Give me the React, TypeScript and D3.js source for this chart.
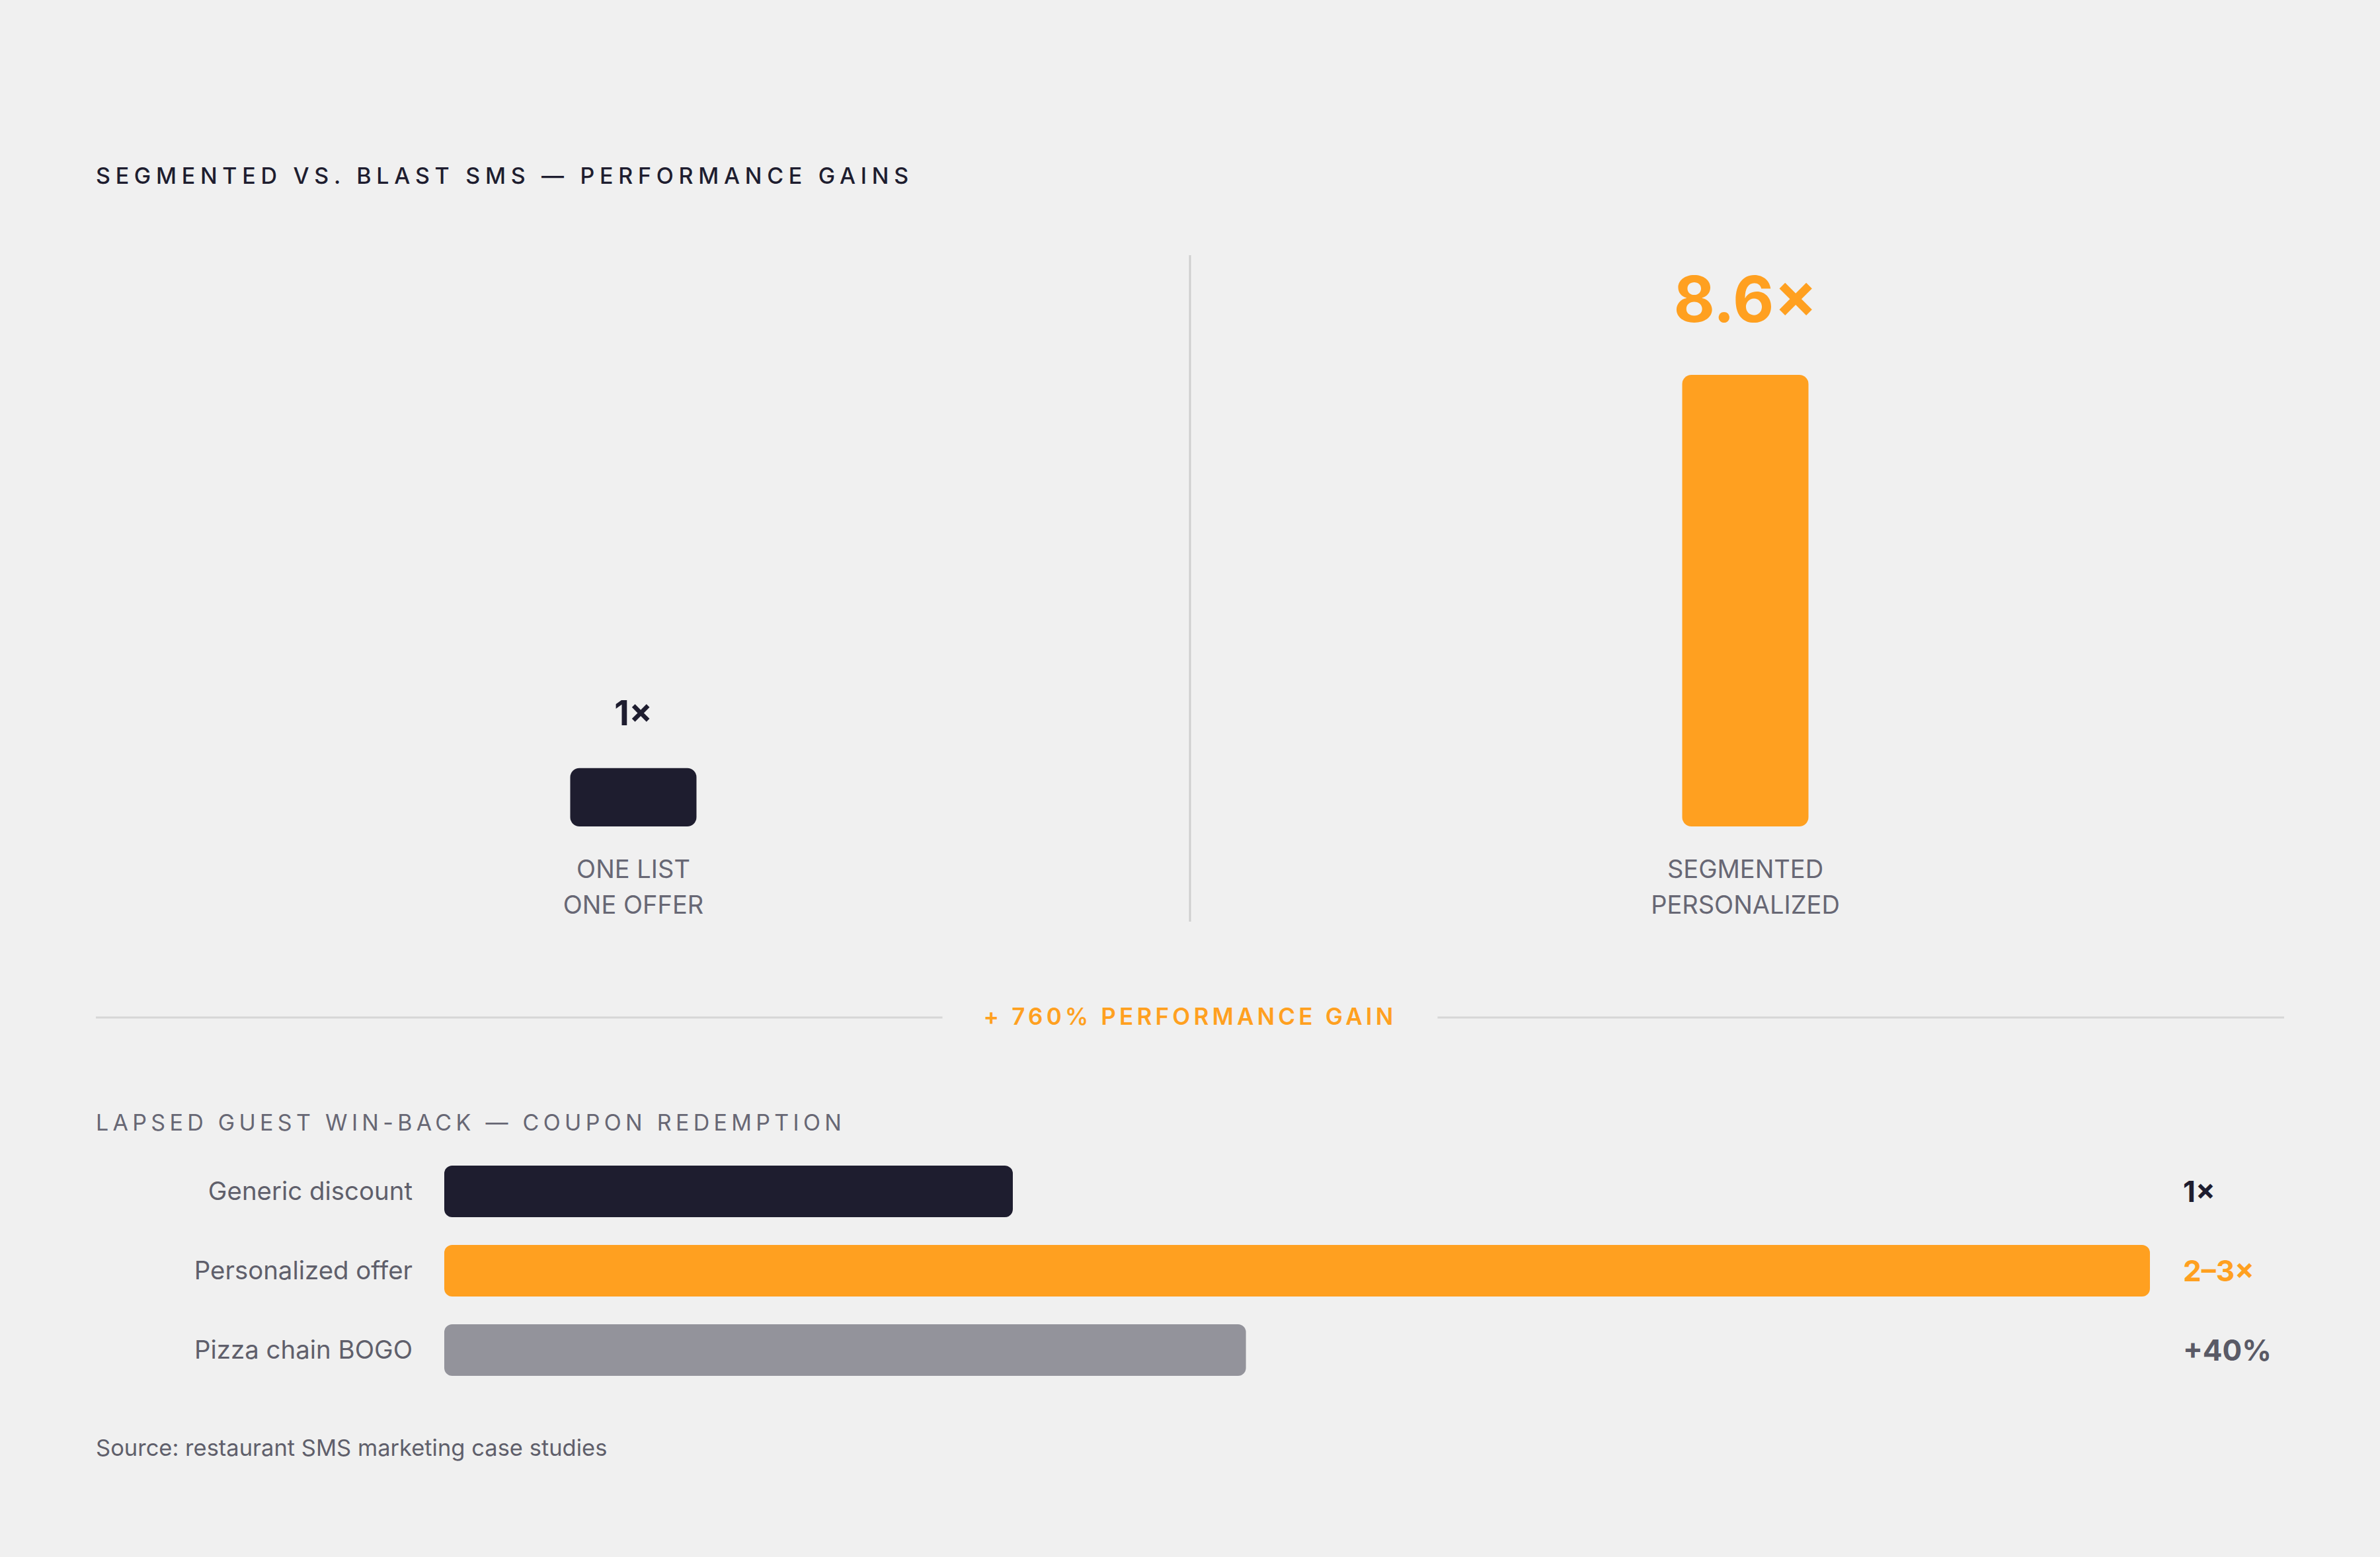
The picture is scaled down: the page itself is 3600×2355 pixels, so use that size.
import React, { useEffect, useRef } from 'react';
import * as d3 from 'd3';

// top comparison
const topCategories = ['blast', 'segmented'];
const topValues = [1, 8.6];
const topValueLabels = ['1×', '8.6×'];
const topCaptions = [['ONE LIST', 'ONE OFFER'], ['SEGMENTED', 'PERSONALIZED']];
const gainLabel = '+ 760% PERFORMANCE GAIN';

// win-back bars
const winbackCategories = ['Generic discount', 'Personalized offer', 'Pizza chain BOGO'];
const winbackValues = [1, 3, 1.41];
const winbackValueLabels = ['1×', '2–3×', '+40%'];

const W = 3600;
const H = 2355;
const BG = '#f0f0f0';
const DARK = '#1e1d2f';
const ORANGE = '#ffa020';
const GREY_BAR = '#93939b';
const GREY_TEXT = '#676774';
const FONT = 'Inter, "Noto Sans", sans-serif';

const App: React.FC = () => {
  const svgRef = useRef<SVGSVGElement>(null);

  useEffect(() => {
    document.body.style.margin = '0';
    if (!svgRef.current) return;
    const svg = d3.select(svgRef.current);
    svg.selectAll('*').remove();

    svg.append('rect').attr('width', W).attr('height', H).attr('fill', BG);

    // Title
    svg.append('text')
      .attr('x', 145).attr('y', 278)
      .attr('font-family', FONT).attr('font-size', 34).attr('font-weight', 500)
      .attr('letter-spacing', '7.7px')
      .attr('fill', DARK)
      .text('SEGMENTED VS. BLAST SMS — PERFORMANCE GAINS');

    // Top column chart
    const xTop = d3.scaleBand<string>()
      .domain(topCategories)
      .range([117, 3481]);
    const baseY = 1250;
    const hTop = d3.scaleLinear().domain([0, 8.6]).range([10, 683]);
    const barW = 191;

    svg.append('line')
      .attr('x1', 1800).attr('x2', 1800).attr('y1', 386).attr('y2', 1394)
      .attr('stroke', '#cfcfcf').attr('stroke-width', 3);

    const cols = svg.append('g').selectAll('g')
      .data(topCategories)
      .enter().append('g')
      .attr('transform', d => `translate(${(xTop(d) as number) + xTop.bandwidth() / 2},0)`);

    cols.append('rect')
      .attr('x', -barW / 2)
      .attr('width', barW)
      .attr('y', (_, i) => baseY - hTop(topValues[i]))
      .attr('height', (_, i) => hTop(topValues[i]))
      .attr('rx', 14)
      .attr('fill', (_, i) => (i === 1 ? ORANGE : DARK));

    cols.append('text')
      .attr('text-anchor', 'middle')
      .attr('y', (_, i) => baseY - hTop(topValues[i]) - (i === 1 ? 80 : 65))
      .attr('font-family', FONT)
      .attr('font-weight', 700)
      .attr('font-size', (_, i) => (i === 1 ? 96 : 52))
      .attr('fill', (_, i) => (i === 1 ? ORANGE : DARK))
      .text((_, i) => topValueLabels[i]);

    cols.each(function (_, i) {
      const g = d3.select(this);
      topCaptions[i].forEach((line, j) => {
        g.append('text')
          .attr('text-anchor', 'middle')
          .attr('y', 1328 + j * 54)
          .attr('font-family', FONT).attr('font-size', 38)
          .attr('fill', GREY_TEXT)
          .text(line);
      });
    });

    // Gain separator
    const gain = svg.append('text')
      .attr('x', 1800).attr('y', 1550)
      .attr('text-anchor', 'middle')
      .attr('font-family', FONT).attr('font-size', 35).attr('font-weight', 600)
      .attr('letter-spacing', '5.2px')
      .attr('fill', ORANGE)
      .text(gainLabel);
    const gb = (gain.node() as SVGTextElement).getBBox();
    const sepY = 1539;
    svg.append('line')
      .attr('x1', 145).attr('x2', gb.x - 62).attr('y1', sepY).attr('y2', sepY)
      .attr('stroke', '#d6d6d6').attr('stroke-width', 3);
    svg.append('line')
      .attr('x1', gb.x + gb.width + 62).attr('x2', 3455).attr('y1', sepY).attr('y2', sepY)
      .attr('stroke', '#d6d6d6').attr('stroke-width', 3);

    // Win-back section
    svg.append('text')
      .attr('x', 145).attr('y', 1710)
      .attr('font-family', FONT).attr('font-size', 34)
      .attr('letter-spacing', '6.3px')
      .attr('fill', GREY_TEXT)
      .text('LAPSED GUEST WIN-BACK — COUPON REDEMPTION');

    const y = d3.scaleBand<string>()
      .domain(winbackCategories)
      .range([1763, 2081])
      .paddingInner(0.35)
      .paddingOuter(0);
    const x = d3.scaleLinear().domain([0, 3]).range([672, 3252]);
    const barColors = [DARK, ORANGE, GREY_BAR];
    const valueColors = [DARK, ORANGE, '#5a5a66'];

    const rows = svg.append('g').selectAll('g')
      .data(winbackCategories)
      .enter().append('g')
      .attr('transform', d => `translate(0,${y(d)})`);

    rows.append('rect')
      .attr('x', x(0))
      .attr('width', (_, i) => x(winbackValues[i]) - x(0))
      .attr('height', y.bandwidth())
      .attr('rx', 12)
      .attr('fill', (_, i) => barColors[i]);

    rows.append('text')
      .attr('x', 624)
      .attr('y', y.bandwidth() / 2 + 13)
      .attr('text-anchor', 'end')
      .attr('font-family', FONT).attr('font-size', 38.4)
      .attr('fill', '#5f5f6b')
      .text(d => d);

    rows.append('text')
      .attr('x', 3302)
      .attr('y', y.bandwidth() / 2 + 16)
      .attr('font-family', FONT).attr('font-size', 44).attr('font-weight', 700)
      .attr('fill', (_, i) => valueColors[i])
      .text((_, i) => winbackValueLabels[i]);

    // Source
    svg.append('text')
      .attr('x', 145).attr('y', 2202)
      .attr('font-family', FONT).attr('font-size', 34.5)
      .attr('fill', '#5f5f6b')
      .text('Source: restaurant SMS marketing case studies');
  }, []);

  return <svg ref={svgRef} width={W} height={H} style={{ display: 'block' }} />;
};

export default App;
